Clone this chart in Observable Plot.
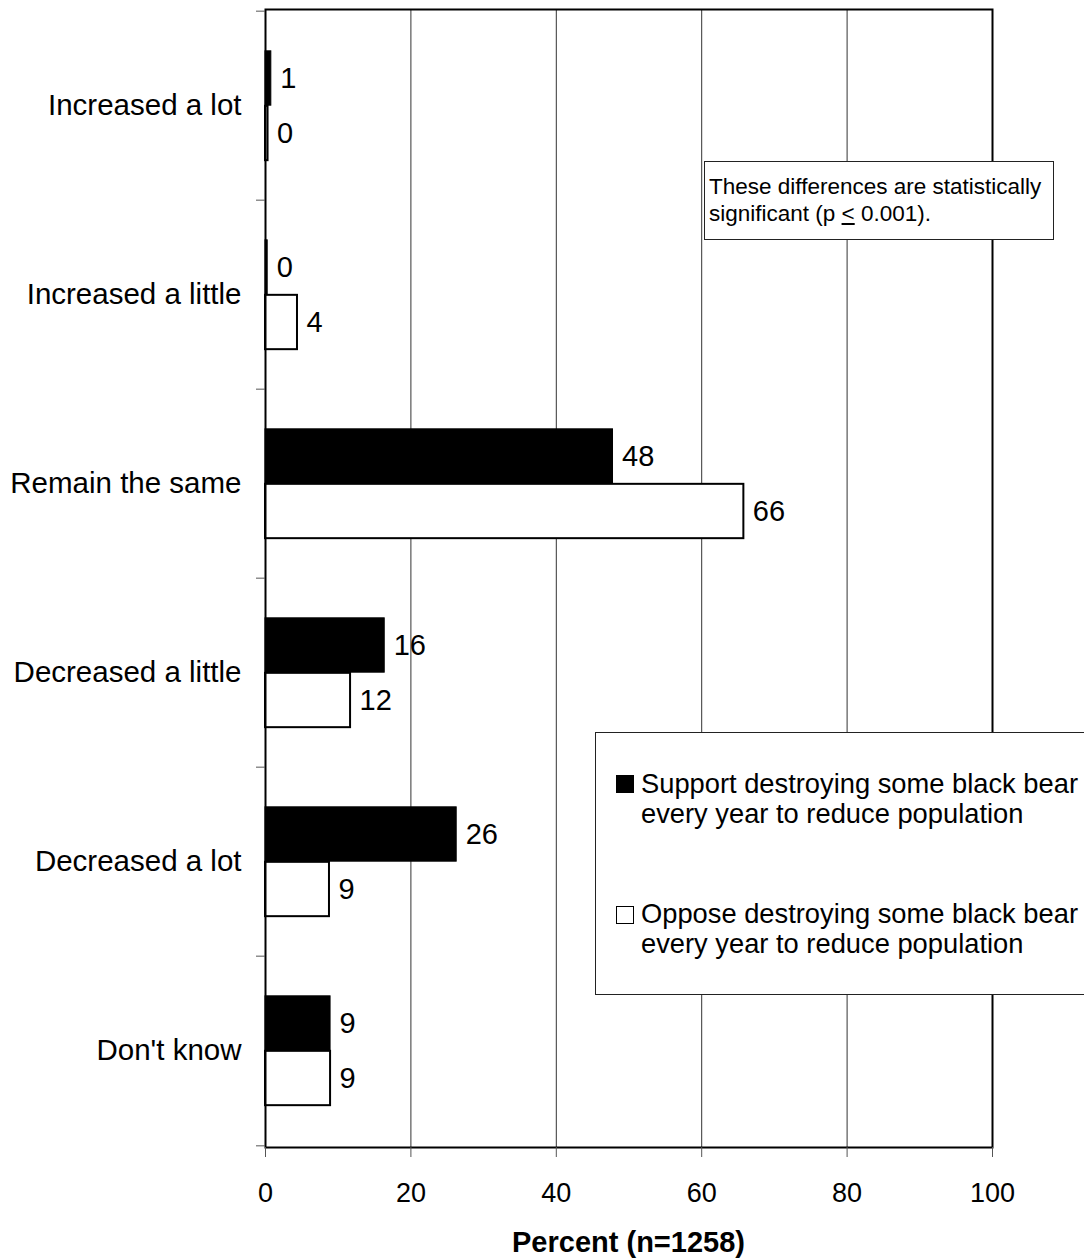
<!DOCTYPE html>
<html>
<head>
<meta charset="utf-8">
<script src="https://cdn.jsdelivr.net/npm/d3@7"></script>
<script src="https://cdn.jsdelivr.net/npm/@observablehq/plot@0.6"></script>
<style>
  html, body { margin: 0; padding: 0; background: #fff; overflow: hidden; }
  #wrap { position: relative; width: 1084px; height: 1259px; overflow: hidden;
          font-family: "Liberation Sans", Arial, Helvetica, sans-serif; color: #000; }
  #chart { position: absolute; left: 0; top: 0; }
  #chart svg { display: block; }
  .note { position: absolute; left: 704px; top: 161px; width: 350px; height: 79px; box-sizing: border-box;
          border: 1.5px solid #222; background: #fff; font-size: 22.5px; line-height: 27px;
          padding: 11px 0 0 4px; white-space: nowrap; }
  .legend { position: absolute; left: 595px; top: 732px; width: 520px; height: 263px; box-sizing: border-box;
            border: 1.5px solid #222; background: #fff; }
  .entry { position: absolute; left: 641px; font-size: 27.3px; line-height: 30px; white-space: nowrap; }
  .swatch { position: absolute; left: 616px; width: 18px; height: 18px; box-sizing: border-box; border: 1.5px solid #000; }
  .xtitle { position: absolute; left: 265px; width: 727px; top: 1226px; text-align: center;
            font-size: 29px; font-weight: bold; line-height: 32px; }
</style>
</head>
<body>
<div id="wrap">
  <div id="chart"></div>
  <div class="note" id="note"></div>
  <div class="legend"></div>
  <div class="swatch" id="sw0"></div>
  <div class="entry" id="en0"></div>
  <div class="swatch" id="sw1"></div>
  <div class="entry" id="en1"></div>
  <div class="xtitle" id="xtitle"></div>
</div>
<script>
// ---- data ----
const categories = ["Increased a lot", "Increased a little", "Remain the same", "Decreased a little", "Decreased a lot", "Don't know"];
const supportValues = [0.8, 0.3, 47.8, 16.4, 26.3, 8.95];
const opposeValues = [0.35, 4.4, 65.8, 11.7, 8.8, 8.95];
const xTicks = [0, 20, 40, 60, 80, 100];
const seriesLine1 = ["Support destroying some black bear", "Oppose destroying some black bear"];
const seriesLine2 = ["every year to reduce population", "every year to reduce population"];
const axisTitle = "Percent (n=1258)";
const noteLine1 = "These differences are statistically";
const noteLine2 = ["significant (p ", "<", " 0.001)."];

const support = categories.map((c, i) => ({category: c, value: supportValues[i]}));
const oppose = categories.map((c, i) => ({category: c, value: opposeValues[i]}));

// ---- layout ----
const W = 1084, H = 1210, mT = 9, mB = 63, mL = 265, mR = 92;
const bw = (H - mT - mB) / categories.length;
const barH = 55;
const font = '"Liberation Sans", Arial, Helvetica, sans-serif';

const chart = Plot.plot({
  width: W, height: H,
  marginTop: mT, marginBottom: mB, marginLeft: mL, marginRight: mR,
  style: {fontFamily: font, background: "white", color: "black", overflow: "visible"},
  x: {domain: [0, 100], ticks: xTicks},
  y: {domain: categories, padding: 0},
  marks: [
    Plot.ruleX(xTicks.slice(1, -1), {stroke: "#333", strokeWidth: 1}),
    Plot.barX(support, {x: "value", y: "category", fill: "black", stroke: "black", strokeWidth: 1,
      insetTop: bw / 2 - barH, insetBottom: bw / 2}),
    Plot.barX(oppose, {x: "value", y: "category", fill: "white", stroke: "black", strokeWidth: 2,
      insetTop: bw / 2, insetBottom: bw / 2 - barH}),
    Plot.text(support, {x: "value", y: "category", text: d => String(Math.round(d.value)),
      dx: 9, dy: -barH / 2, textAnchor: "start", fontSize: 29, fill: "black"}),
    Plot.text(oppose, {x: "value", y: "category", text: d => String(Math.round(d.value)),
      dx: 9, dy: barH / 2, textAnchor: "start", fontSize: 29, fill: "black"}),
    Plot.frame({stroke: "black", strokeWidth: 2}),
    Plot.axisX(xTicks, {tickSize: 10, tickPadding: 25, fontSize: 27, label: null, stroke: "#555", fill: "black"}),
    Plot.axisY({tickSize: 0, tickPadding: 24, fontSize: 29.5, label: null, fill: "black"}),
    Plot.axisY(categories, {tickSize: 9, tickFormat: () => "", dy: -bw / 2, stroke: "#555", label: null}),
    Plot.axisY([categories[categories.length - 1]], {tickSize: 9, tickFormat: () => "", dy: bw / 2, stroke: "#555", label: null})
  ]
});
document.getElementById("chart").appendChild(chart);

// ---- annotations / legend ----
const note = document.getElementById("note");
note.appendChild(document.createTextNode(noteLine1));
note.appendChild(document.createElement("br"));
note.appendChild(document.createTextNode(noteLine2[0]));
const u = document.createElement("span");
u.style.textDecoration = "underline";
u.textContent = noteLine2[1];
note.appendChild(u);
note.appendChild(document.createTextNode(noteLine2[2]));

const swTops = [775, 906];
const enTops = [769, 899];
const fills = ["black", "white"];
[0, 1].forEach(i => {
  const sw = document.getElementById("sw" + i);
  sw.style.top = swTops[i] + "px";
  sw.style.background = fills[i];
  const en = document.getElementById("en" + i);
  en.style.top = enTops[i] + "px";
  en.appendChild(document.createTextNode(seriesLine1[i]));
  en.appendChild(document.createElement("br"));
  en.appendChild(document.createTextNode(seriesLine2[i]));
});
document.getElementById("xtitle").textContent = axisTitle;
</script>
</body>
</html>
